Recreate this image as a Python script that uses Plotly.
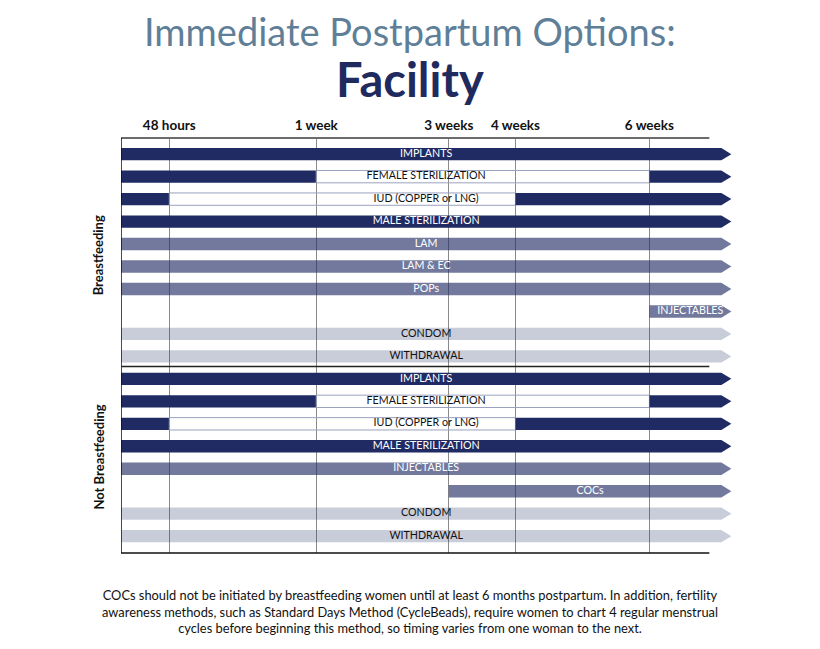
import plotly.graph_objects as go

# ---------------- data ----------------
tick_labels = ["48 hours", "1 week", "3 weeks", "4 weeks", "6 weeks"]
tick_pos = [0.725, 2.93, 4.92, 5.92, 7.93]          # schematic timeline positions
timeline = dict(zip(["birth"] + tick_labels + ["end"], [0.0] + tick_pos + [9.01]))
arrow_len = 0.15
line_end = 8.83

groups = ["Breastfeeding", "Not Breastfeeding"]

bf_methods = ["IMPLANTS", "FEMALE STERILIZATION", "IUD (COPPER or LNG)", "MALE STERILIZATION",
              "LAM", "LAM & EC", "POPs", "INJECTABLES", "CONDOM", "WITHDRAWAL"]
bf_segments = [
    [("birth", "end", "dark")],
    [("birth", "1 week", "dark"), ("1 week", "6 weeks", "open"), ("6 weeks", "end", "dark")],
    [("birth", "48 hours", "dark"), ("48 hours", "4 weeks", "open"), ("4 weeks", "end", "dark")],
    [("birth", "end", "dark")],
    [("birth", "end", "mid")],
    [("birth", "end", "mid")],
    [("birth", "end", "mid")],
    [("6 weeks", "end", "mid")],
    [("birth", "end", "light")],
    [("birth", "end", "light")],
]

nbf_methods = ["IMPLANTS", "FEMALE STERILIZATION", "IUD (COPPER or LNG)", "MALE STERILIZATION",
               "INJECTABLES", "COCs", "CONDOM", "WITHDRAWAL"]
nbf_segments = [
    [("birth", "end", "dark")],
    [("birth", "1 week", "dark"), ("1 week", "6 weeks", "open"), ("6 weeks", "end", "dark")],
    [("birth", "48 hours", "dark"), ("48 hours", "4 weeks", "open"), ("4 weeks", "end", "dark")],
    [("birth", "end", "dark")],
    [("birth", "end", "mid")],
    [("3 weeks", "end", "mid")],
    [("birth", "end", "light")],
    [("birth", "end", "light")],
]

footnote = ("COCs should not be initiated by breastfeeding women until at least 6 months postpartum. In addition, fertility<br>"
            "awareness methods, such as Standard Days Method (CycleBeads), require women to chart 4 regular menstrual<br>"
            "cycles before beginning this method, so timing varies from one woman to the next.")

# ---------------- styles ----------------
FONT = "Lato"
fills = {"dark": "rgb(31,43,98)", "mid": "rgba(31,43,98,0.63)",
         "light": "rgba(31,43,98,0.24)", "open": "rgba(0,0,0,0)"}
text_colors = {"dark": "white", "mid": "white", "light": "#111111", "open": "#111111"}
half_h = 0.275

methods = bf_methods + nbf_methods
segments = bf_segments + nbf_segments

fig = go.Figure()

for r, (name, segs) in enumerate(zip(methods, segments)):
    for (s, e, style) in segs:
        x0, x1 = timeline[s], timeline[e]
        if e == "end":
            xs = [x0, x1, x1 + arrow_len, x1, x0, x0]
            ys = [r - half_h, r - half_h, r, r + half_h, r + half_h, r - half_h]
        else:
            xs = [x0, x1, x1, x0, x0]
            ys = [r - half_h, r - half_h, r + half_h, r + half_h, r - half_h]
        fig.add_trace(go.Scatter(
            x=xs, y=ys, fill="toself", fillcolor=fills[style], mode="lines",
            line=dict(width=1 if style == "open" else 0, color="#9aa1bf"),
            hoverinfo="skip", showlegend=False))
    # label, centred on the whole row span
    row_start = timeline[segs[0][0]]
    row_end = timeline[segs[-1][1]] + arrow_len
    label_style = segs[len(segs) // 2][2]
    fig.add_trace(go.Scatter(
        x=[(row_start + row_end) / 2], y=[r], mode="text", text=[name],
        textfont=dict(family=FONT, size=10.7, color=text_colors[label_style]),
        hoverinfo="skip", showlegend=False))

n_bf = len(bf_methods)
n_all = len(methods)

shapes = [
    dict(type="line", xref="x", yref="paper", x0=0, x1=line_end, y0=1, y1=1,
         line=dict(color="#6b6b6b", width=2)),
    dict(type="line", xref="x", yref="paper", x0=0, x1=line_end, y0=0, y1=0,
         line=dict(color="#111111", width=1.5)),
    dict(type="line", xref="x", yref="paper", x0=0, x1=0, y0=0, y1=1,
         line=dict(color="#111111", width=1.5)),
    dict(type="line", xref="x", yref="y", x0=0, x1=line_end, y0=n_bf - 0.55, y1=n_bf - 0.55,
         line=dict(color="#222222", width=1.5)),
]

annotations = [
    dict(text="Immediate Postpartum Options:", xref="paper", yref="paper", x=0.465, y=1.258,
         xanchor="center", yanchor="middle", showarrow=False,
         font=dict(family=FONT, size=38, color="#5f7f98")),
    dict(text="<b>Facility</b>", xref="paper", yref="paper", x=0.465, y=1.142,
         xanchor="center", yanchor="middle", showarrow=False,
         font=dict(family=FONT, size=47, color="#1f2a5e")),
    dict(text="<b>" + groups[0] + "</b>", xref="paper", yref="y", x=-0.037, y=(n_bf - 1) / 2,
         textangle=-90, xanchor="center", yanchor="middle", showarrow=False,
         font=dict(family=FONT, size=13, color="#111111")),
    dict(text="<b>" + groups[1] + "</b>", xref="paper", yref="y", x=-0.037, y=(n_bf + n_all - 1) / 2,
         textangle=-90, xanchor="center", yanchor="middle", showarrow=False,
         font=dict(family=FONT, size=13, color="#111111")),
    dict(text=footnote, xref="paper", yref="paper", x=0.465, y=-0.14,
         xanchor="center", yanchor="middle", showarrow=False, align="center",
         font=dict(family=FONT, size=12.85, color="#111111")),
]

fig.update_layout(
    width=820, height=649,
    margin=dict(l=113, r=86, t=130, b=104),
    paper_bgcolor="white", plot_bgcolor="white",
    shapes=shapes, annotations=annotations,
    xaxis=dict(range=[0, 9.32], side="top", tickmode="array", tickvals=tick_pos,
               ticktext=["<b>" + t + "</b>" for t in tick_labels],
               tickfont=dict(family=FONT, size=13.5, color="#111111"),
               ticklabelstandoff=4,
               showgrid=True, gridcolor="#8a8a8a", gridwidth=1, zeroline=False,
               ticks="", showline=False, fixedrange=True),
    yaxis=dict(range=[n_all - 0.25, -0.72], showticklabels=False, showgrid=False,
               zeroline=False, showline=False, ticks="", fixedrange=True),
)

fig.write_html("out.html")
